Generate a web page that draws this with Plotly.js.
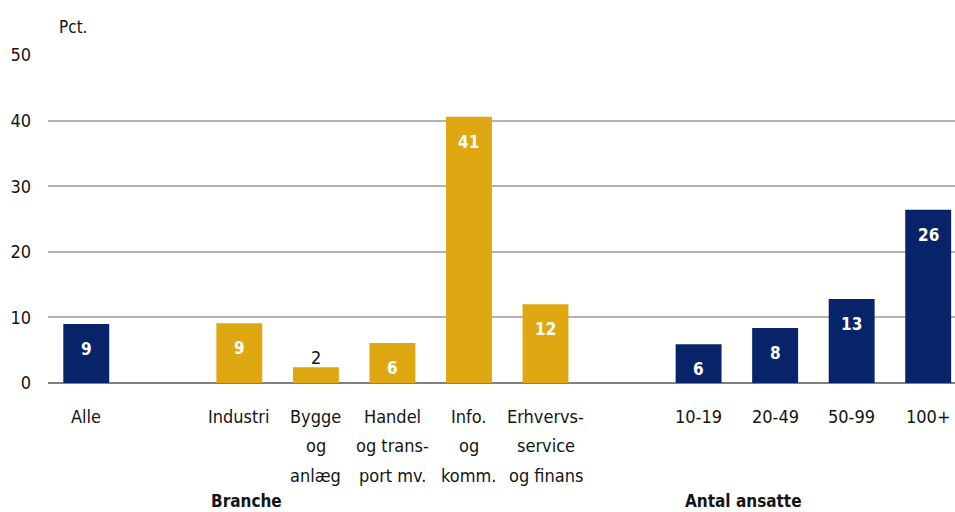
<!DOCTYPE html>
<html>
<head>
<meta charset="utf-8">
<script src="https://cdn.plot.ly/plotly-3.0.1.min.js"></script>
<style>html,body{margin:0;padding:0;background:#fff;}#chart{width:955px;height:512px;}</style>
</head>
<body>
<div id="chart"></div>
<script>
// ---- data ----
var categories = ["Alle", "Industri", "Bygge og anlæg", "Handel og transport mv.", "Info. og komm.", "Erhvervsservice og finans", "10-19", "20-49", "50-99", "100+"];
var tickLines = [["Alle"], ["Industri"], ["Bygge", "og", "anlæg"], ["Handel", "og trans-", "port mv."], ["Info.", "og", "komm."], ["Erhvervs-", "service", "og finans"], ["10-19"], ["20-49"], ["50-99"], ["100+"]];
var values = [9.0, 9.1, 2.4, 6.1, 40.6, 12.0, 5.9, 8.4, 12.8, 26.4];
var groups = ["Alle", "Branche", "Branche", "Branche", "Branche", "Branche", "Antal ansatte", "Antal ansatte", "Antal ansatte", "Antal ansatte"];
var groupTitles = ["Branche", "Antal ansatte"];
var yTicks = [0, 10, 20, 30, 40, 50];
var unitLabel = "Pct.";

// ---- styles ----
var NAVY = "#07246a", GOLD = "#dfa813";
var FONT = "'DejaVu Sans Condensed', 'Liberation Sans Narrow', 'DejaVu Sans', sans-serif";
var TXT = "#141414";

// positions: one empty slot between groups
var xs = [], gap = 0;
for (var i = 0; i < values.length; i++) {
  if (i > 0 && groups[i] !== groups[i - 1]) gap++;
  xs.push(i + gap);
}
var colors = groups.map(function (g) { return g === "Branche" ? GOLD : NAVY; });

var annotations = [];
// value labels
values.forEach(function (v, i) {
  var inside = v > 4;
  annotations.push({
    x: xs[i], y: v, xref: "x", yref: "y", text: String(Math.round(v)), showarrow: false,
    yanchor: "middle", yshift: inside ? -25 : 10,
    font: { family: FONT, size: inside ? 17 : 18, color: inside ? "#ffffff" : TXT, weight: inside ? "bold" : "normal" }
  });
});
// category labels (multi-line)
tickLines.forEach(function (lines, i) {
  lines.forEach(function (ln, j) {
    annotations.push({
      x: xs[i], y: 0, xref: "x", yref: "paper", text: ln, showarrow: false,
      yanchor: "middle", yshift: -(33 + j * 29.7),
      font: { family: FONT, size: 18, color: TXT }
    });
  });
});
// group titles
function groupStart(name) {
  return xs[groups.indexOf(name)];
}
annotations.push({ x: groupStart("Branche") + 0.09, y: 0, xref: "x", yref: "paper", text: groupTitles[0], showarrow: false,
  yanchor: "middle", yshift: -118, font: { family: FONT, size: 17, color: TXT, weight: "bold" } });
annotations.push({ x: groupStart("Antal ansatte") + 0.59, y: 0, xref: "x", yref: "paper", text: groupTitles[1], showarrow: false,
  yanchor: "middle", yshift: -118, font: { family: FONT, size: 17, color: TXT, weight: "bold" } });
// unit label
annotations.push({ x: 0, y: 1, xref: "paper", yref: "paper", text: unitLabel, showarrow: false,
  xanchor: "left", yanchor: "middle", xshift: 9, yshift: 28, font: { family: FONT, size: 17, color: TXT } });

var trace = {
  type: "bar", x: xs, y: values, width: 0.6,
  marker: { color: colors, line: { width: 0 } },
  hoverinfo: "skip", text: categories, textposition: "none"
};

var layout = {
  width: 955, height: 512,
  margin: { l: 48, r: 0, t: 55, b: 129 },
  paper_bgcolor: "#ffffff", plot_bgcolor: "#ffffff",
  showlegend: false,
  font: { family: FONT, size: 18, color: TXT },
  xaxis: { range: [-0.5, 11.35], showticklabels: false, showgrid: false, zeroline: false, ticks: "", fixedrange: true },
  yaxis: {
    range: [0, 50], tickvals: yTicks, ticktext: yTicks.map(String),
    showgrid: true, gridcolor: "#b3b3b3", gridwidth: 2,
    zeroline: true, zerolinecolor: "#808080", zerolinewidth: 2,
    ticks: "", ticklabelstandoff: 16, tickfont: { family: FONT, size: 18, color: TXT }, fixedrange: true
  },
  annotations: annotations
};

Plotly.newPlot("chart", [trace], layout, { displayModeBar: false, staticPlot: true });
</script>
</body>
</html>
